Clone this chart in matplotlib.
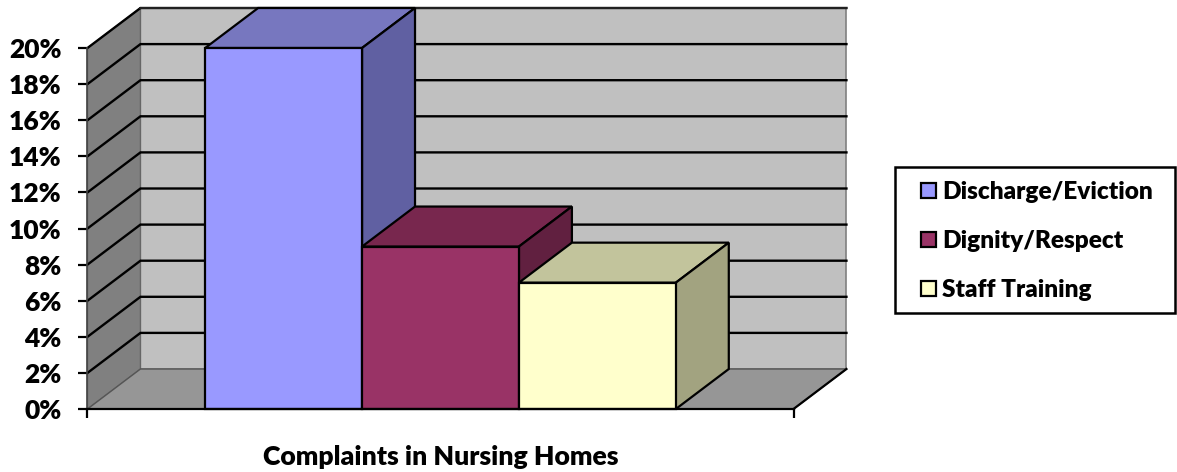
import matplotlib
matplotlib.use("Agg")
import matplotlib.pyplot as plt
from matplotlib.patches import Polygon, Patch, Rectangle

plt.rcParams['font.family'] = ['Lato', 'DejaVu Sans']
plt.rcParams['font.weight'] = 'bold'

series_names = ["Discharge/Eviction", "Dignity/Respect", "Staff Training"]
series_values = [20, 9, 7]
front_colors = ["#9999FF", "#993366", "#FFFFCC"]
top_colors = ["#7777BF", "#78274E", "#C2C49C"]
side_colors = ["#6060A2", "#612040", "#A2A380"]
y_ticks = list(range(0, 22, 2))
x_label = "Complaints in Nursing Homes"

# fake 3d depth, in data units (bar widths / percent)
DX = 53 / 157
DY = 40 / 18.05
GAP = 0.75
XMAX = GAP * 2 + len(series_values)
YMAX = 20


def poly(ax, pts, color, z, ec="black", lw=1.6):
    ax.add_patch(Polygon(pts, closed=True, fc=color, ec=ec, lw=lw, zorder=z,
                         clip_on=False, joinstyle="miter"))


fig = plt.figure(figsize=(11.77, 4.72), dpi=100)
ax = fig.add_axes([87.5 / 1177, (472 - 409) / 472, 706 / 1177, 361 / 472])
ax.set_xlim(0, XMAX)
ax.set_ylim(0, YMAX)

# back wall, left wall, floor
poly(ax, [(DX, DY), (XMAX + DX, DY), (XMAX + DX, YMAX + DY), (DX, YMAX + DY)], "#C0C0C0", 1, ec="#808080", lw=1.2)
poly(ax, [(0, 0), (DX, DY), (DX, YMAX + DY), (0, YMAX)], "#808080", 1.1, ec="#666666", lw=1.0)
poly(ax, [(0, 0), (XMAX, 0), (XMAX + DX, DY), (DX, DY)], "#969696", 1.2, ec="#555555", lw=1.0)

# gridlines on the walls
for t in y_ticks[1:]:
    ax.plot([0, DX, XMAX + DX], [t, t + DY, t + DY], color="black", lw=1.7, zorder=2,
            clip_on=False, solid_joinstyle="miter")
ax.plot([DX, XMAX + DX], [YMAX + DY, YMAX + DY], color="#222222", lw=1.4, zorder=2, clip_on=False)
ax.plot([XMAX, XMAX + DX], [0, DY], color="black", lw=1.6, zorder=2, clip_on=False)

# bars, left to right so that each one covers the side of the one before
for i, v in enumerate(series_values):
    x0 = GAP + i
    x1 = x0 + 1
    z = 3 + i
    poly(ax, [(x0, v), (x1, v), (x1 + DX, v + DY), (x0 + DX, v + DY)], top_colors[i], z)
    poly(ax, [(x1, 0), (x1 + DX, DY), (x1 + DX, v + DY), (x1, v)], side_colors[i], z)
    poly(ax, [(x0, 0), (x1, 0), (x1, v), (x0, v)], front_colors[i], z)

for s in ["top", "right"]:
    ax.spines[s].set_visible(False)
ax.spines["bottom"].set_linewidth(1.6)
ax.spines["bottom"].set_zorder(10)
ax.spines["left"].set_linewidth(1.2)
ax.spines["left"].set_color("#444444")
ax.spines["left"].set_zorder(10)
ax.patch.set_visible(False)

ax.set_xticks([0, XMAX])
ax.set_xticklabels([])
ax.set_yticks(y_ticks)
ax.set_yticklabels([f"{t}%" for t in y_ticks], fontsize=19, fontweight="heavy")
ax.tick_params(axis="both", length=6.5, width=1.6, color="black")
ax.tick_params(axis="y", pad=12)
ax.set_xlabel(x_label, fontsize=19.2, fontweight="heavy", labelpad=16)

# legend box is drawn by hand so its padding can differ per side
fig.add_artist(Rectangle((895 / 1177, (472 - 313) / 472), 280 / 1177, 146 / 472,
                         transform=fig.transFigure, fc="white", ec="black", lw=1.8))
handles = [Patch(fc=c, ec="black", lw=1.6) for c in front_colors]
leg = fig.legend(handles, series_names, loc="center left",
                 bbox_to_anchor=(921 / 1177, (472 - 241) / 472), frameon=False,
                 handlelength=0.6, handleheight=0.6, handletextpad=0.25,
                 labelspacing=1.1, borderpad=0, borderaxespad=0,
                 prop={"weight": "heavy", "size": 17.6})

fig.savefig("out.png", dpi=100)
